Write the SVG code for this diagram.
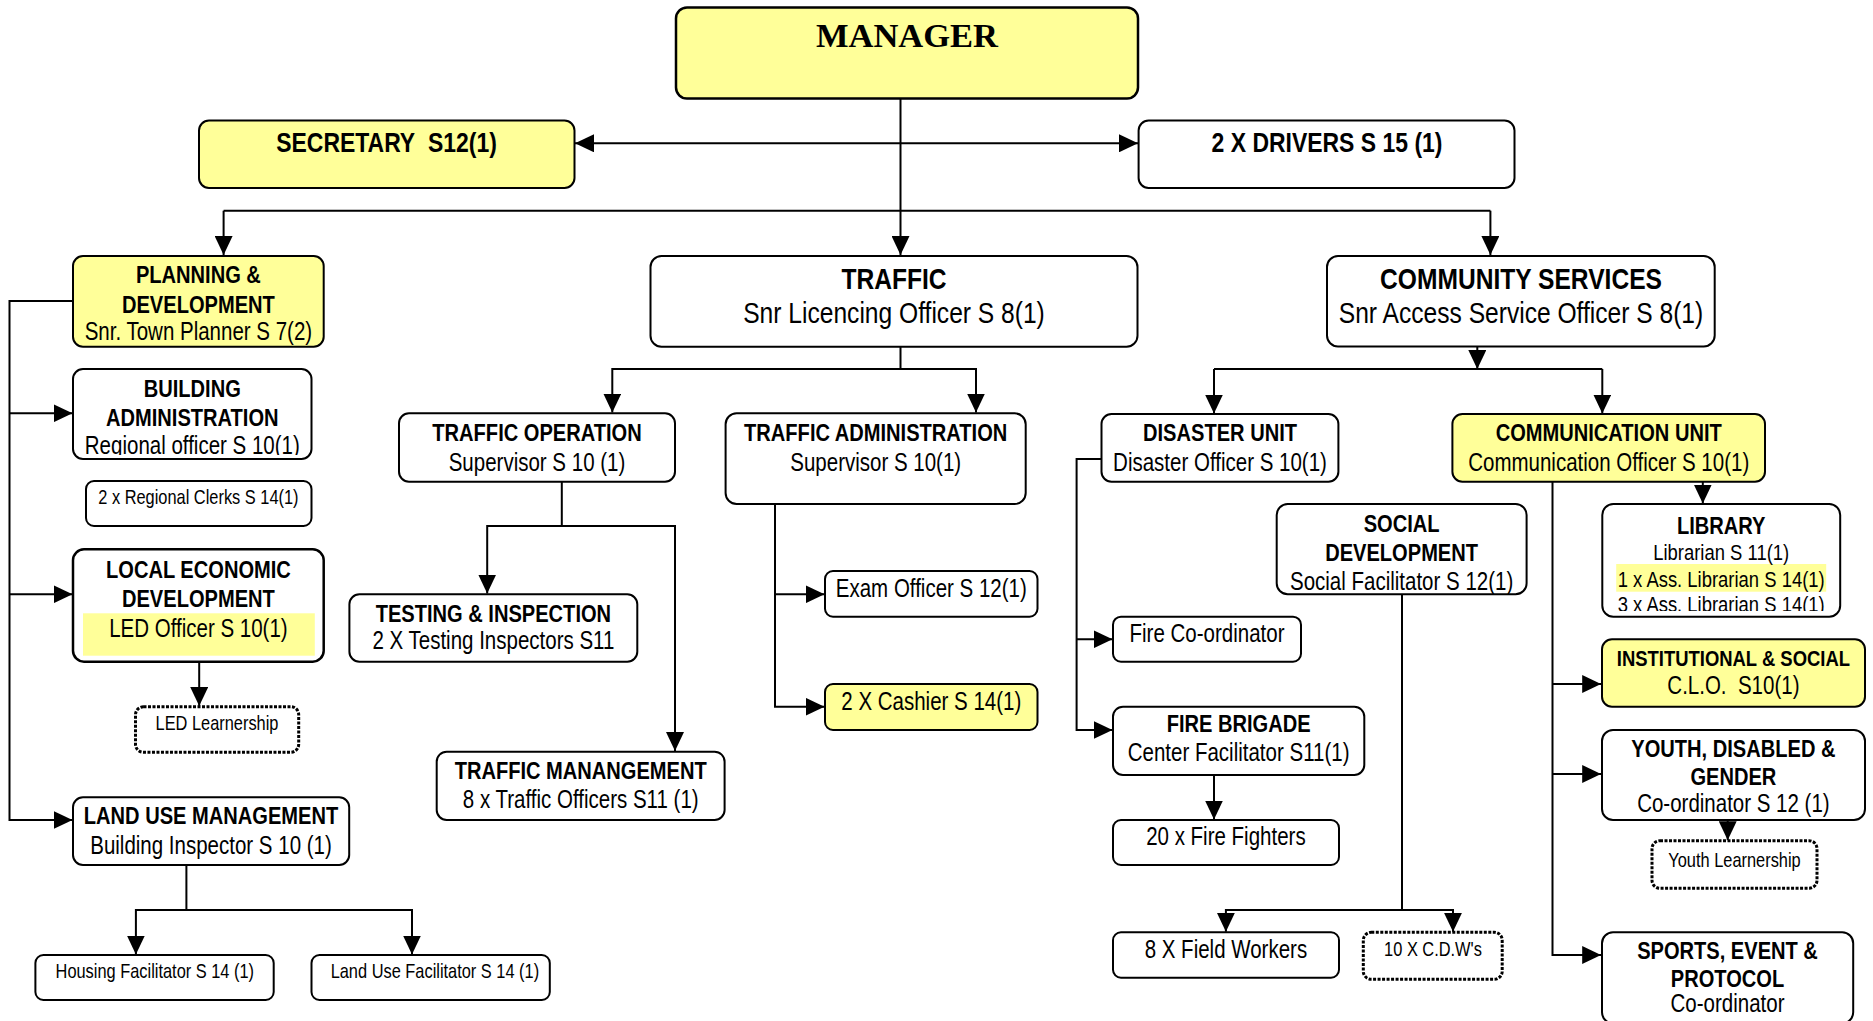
<svg xmlns="http://www.w3.org/2000/svg" width="1873" height="1021" viewBox="0 0 1873 1021">
  <style>
    .box { fill: #ffffff; stroke: #000000; stroke-width: 2; }
    .yel { fill: #ffff99; stroke: #000000; stroke-width: 2; }
    .dot { fill: #ffffff; stroke: #000000; stroke-width: 3; stroke-dasharray: 3 1.5; }
    .mark { fill: #ffff99; stroke: none; }
    .wire { fill: none; stroke: #000000; stroke-width: 2; }
    .arr { marker-end: url(#head); }
    text { font-family: "Liberation Sans", Arial, sans-serif; fill: #000000; text-anchor: middle; }
    .b { font-weight: bold; font-size: 24.5px; }
    .r { font-size: 25px; }
    .s { font-size: 20px; }
    .m { font-size: 22.5px; }
    .xl { font-size: 30px; }
    .xlb { font-size: 30px; font-weight: bold; }
    .lg { font-size: 28px; font-weight: bold; }
    .mgr { font-family: "Liberation Serif", "Times New Roman", serif; font-weight: bold; font-size: 34.5px; }
  </style>
  <defs>
    <marker id="head" markerUnits="userSpaceOnUse" markerWidth="19" markerHeight="18" refX="19" refY="9" orient="auto" viewBox="0 0 19 18">
      <path d="M0,0 L19,9 L0,18 Z" fill="#000000"/>
    </marker>
    <clipPath id="clipBuilding"><rect x="73" y="369" width="239" height="86"/></clipPath>
    <clipPath id="clipLibrary"><rect x="1602" y="504" width="238" height="107"/></clipPath>
  </defs>

  <!-- connectors -->
  <g id="connectors">
    <path class="wire arr" d="M900.5,98 V255"/>
    <path class="wire arr" d="M900.5,143.3 H575"/>
    <path class="wire arr" d="M900.5,143.3 H1138"/>
    <path class="wire" d="M223.6,210.7 H1490.4"/>
    <path class="wire arr" d="M223.6,210.7 V255"/>
    <path class="wire arr" d="M1490.4,210.7 V255"/>

    <path class="wire arr" d="M900.5,346.7 V369 H612.3 V412.5"/>
    <path class="wire arr" d="M900.5,369 H976 V412.5"/>
    <path class="wire arr" d="M561.8,481.7 V526 H487.2 V593.5"/>
    <path class="wire arr" d="M561.8,526 H675 V751"/>
    <path class="wire arr" d="M775,504 V706.7 H824.5"/>
    <path class="wire arr" d="M775,594.3 H824.5"/>

    <path class="wire arr" d="M73,301 H9.5 V820 H72.5"/>
    <path class="wire arr" d="M9.5,413.3 H72.5"/>
    <path class="wire arr" d="M9.5,594.3 H72.5"/>
    <path class="wire arr" d="M199.2,661.7 V706"/>
    <path class="wire arr" d="M186.4,865 V910 H135.9 V954.5"/>
    <path class="wire arr" d="M186.4,910 H412 V954.5"/>

    <path class="wire arr" d="M1477.3,346.5 V369"/>
    <path class="wire" d="M1214,369 H1602.3"/>
    <path class="wire arr" d="M1214,369 V413.5"/>
    <path class="wire arr" d="M1602.3,369 V413.5"/>
    <path class="wire arr" d="M1101.5,459 H1076.6 V730 H1112.5"/>
    <path class="wire arr" d="M1076.6,639.3 H1112.5"/>
    <path class="wire arr" d="M1214,775 V819.5"/>
    <path class="wire arr" d="M1402,594.3 V910 H1225.9 V931.8"/>
    <path class="wire arr" d="M1402,910 H1453 V931.8"/>
    <path class="wire arr" d="M1552.5,481.7 V955 H1601.2"/>
    <path class="wire arr" d="M1552.5,684 H1601.2"/>
    <path class="wire arr" d="M1552.5,774 H1601.2"/>
    <path class="wire arr" d="M1702.8,481.7 V503.5"/>
    <path class="wire arr" d="M1727.7,820 V840.2"/>
  </g>

  <!-- top level -->
  <g id="manager">
    <rect class="yel" x="676" y="7.5" width="462" height="91" rx="11" style="stroke-width:2.5"/>
    <text class="mgr" x="907" y="47">MANAGER</text>
  </g>
  <g id="secretary">
    <rect class="yel" x="199" y="120.5" width="375.5" height="67.5" rx="10"/>
    <g transform="translate(386.5 0) scale(0.82 1)"><text class="lg" x="0" y="151.7">SECRETARY&#160; S12(1)</text></g>
  </g>
  <g id="drivers">
    <rect class="box" x="1138.6" y="120.5" width="375.9" height="67.5" rx="10"/>
    <g transform="translate(1327 0) scale(0.82 1)"><text class="lg" x="0" y="151.7">2 X DRIVERS S 15 (1)</text></g>
  </g>

  <!-- planning & development branch -->
  <g id="planning">
    <rect class="yel" x="73" y="256" width="250.7" height="90.7" rx="10"/>
    <g transform="translate(198.4 0) scale(0.82 1)">
      <text class="b" x="0" y="283">PLANNING &amp;</text>
      <text class="b" x="0" y="312.7">DEVELOPMENT</text>
      <text class="r" x="0" y="340.5">Snr. Town Planner S 7(2)</text>
    </g>
  </g>
  <g id="building">
    <rect class="box" x="73" y="369" width="238.5" height="90" rx="10"/>
    <g clip-path="url(#clipBuilding)">
      <g transform="translate(192.3 0) scale(0.82 1)">
        <text class="b" x="0" y="396.7">BUILDING</text>
        <text class="b" x="0" y="426">ADMINISTRATION</text>
        <text class="r" x="0" y="454.5">Regional officer S 10(1)</text>
      </g>
    </g>
  </g>
  <g id="clerks">
    <rect class="box" x="86" y="481" width="225.5" height="45" rx="8"/>
    <g transform="translate(198.4 0) scale(0.82 1)"><text class="s" x="0" y="504">2 x Regional Clerks S 14(1)</text></g>
  </g>
  <g id="led">
    <rect class="box" x="73" y="549.3" width="250.7" height="112.4" rx="11" style="stroke-width:2.5"/>
    <rect class="mark" x="83" y="613.3" width="231.8" height="42.4"/>
    <g transform="translate(198.4 0) scale(0.82 1)">
      <text class="b" x="0" y="578.3">LOCAL ECONOMIC</text>
      <text class="b" x="0" y="607.3">DEVELOPMENT</text>
      <text class="r" x="0" y="637.3">LED Officer S 10(1)</text>
    </g>
  </g>
  <g id="led-learnership">
    <rect class="dot" x="135.5" y="706.7" width="163.2" height="45.6" rx="8"/>
    <g transform="translate(217 0) scale(0.82 1)"><text class="s" x="0" y="730">LED Learnership</text></g>
  </g>
  <g id="land-use">
    <rect class="box" x="73" y="797.3" width="276.2" height="67.7" rx="10"/>
    <g transform="translate(211 0) scale(0.82 1)">
      <text class="b" x="0" y="824">LAND USE MANAGEMENT</text>
      <text class="r" x="0" y="854">Building Inspector S 10 (1)</text>
    </g>
  </g>
  <g id="housing">
    <rect class="box" x="35.4" y="955" width="238.3" height="45" rx="8"/>
    <g transform="translate(154.8 0) scale(0.82 1)"><text class="s" x="0" y="978.3">Housing Facilitator S 14 (1)</text></g>
  </g>
  <g id="land-use-facilitator">
    <rect class="box" x="311.5" y="955" width="238.3" height="45" rx="8"/>
    <g transform="translate(434.9 0) scale(0.82 1)"><text class="s" x="0" y="978.3">Land Use Facilitator S 14 (1)</text></g>
  </g>

  <!-- traffic branch -->
  <g id="traffic">
    <rect class="box" x="650.5" y="256" width="487" height="90.7" rx="11"/>
    <g transform="translate(894 0) scale(0.82 1)">
      <text class="xlb" x="0" y="289">TRAFFIC</text>
      <text class="xl" x="0" y="323.3">Snr Licencing Officer S 8(1)</text>
    </g>
  </g>
  <g id="traffic-operation">
    <rect class="box" x="399" y="413.3" width="276" height="68.4" rx="10"/>
    <g transform="translate(537 0) scale(0.82 1)">
      <text class="b" x="0" y="440.6">TRAFFIC OPERATION</text>
      <text class="r" x="0" y="470.6">Supervisor S 10 (1)</text>
    </g>
  </g>
  <g id="traffic-administration">
    <rect class="box" x="725.6" y="413.3" width="300.1" height="90.7" rx="11"/>
    <g transform="translate(875.7 0) scale(0.82 1)">
      <text class="b" x="0" y="440.6">TRAFFIC ADMINISTRATION</text>
      <text class="r" x="0" y="470.6">Supervisor S 10(1)</text>
    </g>
  </g>
  <g id="testing">
    <rect class="box" x="349.4" y="594.3" width="287.9" height="67.4" rx="10"/>
    <g transform="translate(493.4 0) scale(0.82 1)">
      <text class="b" x="0" y="621.6">TESTING &amp; INSPECTION</text>
      <text class="r" x="0" y="649.5">2 X Testing Inspectors S11</text>
    </g>
  </g>
  <g id="traffic-management">
    <rect class="box" x="436.7" y="751.7" width="287.9" height="68.3" rx="10"/>
    <g transform="translate(580.7 0) scale(0.82 1)">
      <text class="b" x="0" y="779.3">TRAFFIC MANANGEMENT</text>
      <text class="r" x="0" y="808.3">8 x Traffic Officers S11 (1)</text>
    </g>
  </g>
  <g id="exam-officer">
    <rect class="box" x="825" y="571" width="212.5" height="45.7" rx="8"/>
    <g transform="translate(931.3 0) scale(0.82 1)"><text class="r" x="0" y="597">Exam Officer S 12(1)</text></g>
  </g>
  <g id="cashier">
    <rect class="yel" x="825" y="684" width="212.5" height="46" rx="8"/>
    <g transform="translate(931.3 0) scale(0.82 1)"><text class="r" x="0" y="710">2 X Cashier S 14(1)</text></g>
  </g>

  <!-- community services branch -->
  <g id="community">
    <rect class="box" x="1327" y="256" width="387.7" height="90.5" rx="11"/>
    <g transform="translate(1521 0) scale(0.82 1)">
      <text class="xlb" x="0" y="289">COMMUNITY SERVICES</text>
      <text class="xl" x="0" y="323.3">Snr Access Service Officer S 8(1)</text>
    </g>
  </g>
  <g id="disaster">
    <rect class="box" x="1101.5" y="414" width="236.9" height="67.7" rx="10"/>
    <g transform="translate(1220 0) scale(0.82 1)">
      <text class="b" x="0" y="440.7">DISASTER UNIT</text>
      <text class="r" x="0" y="470.7">Disaster Officer S 10(1)</text>
    </g>
  </g>
  <g id="fire-coordinator">
    <rect class="box" x="1113" y="616.7" width="188" height="45" rx="8"/>
    <g transform="translate(1207 0) scale(0.82 1)"><text class="r" x="0" y="641.7">Fire Co-ordinator</text></g>
  </g>
  <g id="fire-brigade">
    <rect class="box" x="1113" y="706.7" width="251.3" height="68.3" rx="10"/>
    <g transform="translate(1238.6 0) scale(0.82 1)">
      <text class="b" x="0" y="732.3">FIRE BRIGADE</text>
      <text class="r" x="0" y="760.7">Center Facilitator S11(1)</text>
    </g>
  </g>
  <g id="fire-fighters">
    <rect class="box" x="1113" y="820" width="226" height="45" rx="8"/>
    <g transform="translate(1225.9 0) scale(0.82 1)"><text class="r" x="0" y="845">20 x Fire Fighters</text></g>
  </g>
  <g id="social">
    <rect class="box" x="1276.7" y="504" width="249.9" height="90.3" rx="11"/>
    <g transform="translate(1401.6 0) scale(0.82 1)">
      <text class="b" x="0" y="531.7">SOCIAL</text>
      <text class="b" x="0" y="560.7">DEVELOPMENT</text>
      <text class="r" x="0" y="590">Social Facilitator S 12(1)</text>
    </g>
  </g>
  <g id="field-workers">
    <rect class="box" x="1113" y="932.3" width="226" height="45.4" rx="8"/>
    <g transform="translate(1225.9 0) scale(0.82 1)"><text class="r" x="0" y="958.3">8 X Field Workers</text></g>
  </g>
  <g id="cdw">
    <rect class="dot" x="1363.3" y="932.3" width="138.9" height="47" rx="8"/>
    <g transform="translate(1433 0) scale(0.82 1)"><text class="s" x="0" y="956">10 X C.D.W's</text></g>
  </g>
  <g id="communication">
    <rect class="yel" x="1452.4" y="414" width="312.6" height="67.7" rx="10"/>
    <g transform="translate(1608.7 0) scale(0.82 1)">
      <text class="b" x="0" y="440.7">COMMUNICATION UNIT</text>
      <text class="r" x="0" y="470.7">Communication Officer S 10(1)</text>
    </g>
  </g>
  <g id="library">
    <rect class="box" x="1602.3" y="504" width="237.9" height="112.7" rx="11"/>
    <rect class="mark" x="1616.2" y="564" width="210" height="27.7"/>
    <g clip-path="url(#clipLibrary)">
      <g transform="translate(1721.2 0) scale(0.82 1)">
        <text class="b" x="0" y="534">LIBRARY</text>
        <text class="m" x="0" y="560">Librarian S 11(1)</text>
        <text class="m" x="0" y="586.7">1 x Ass. Librarian S 14(1)</text>
        <text class="m" x="0" y="612.5">3 x Ass. Librarian S 14(1)</text>
      </g>
    </g>
  </g>
  <g id="institutional">
    <rect class="yel" x="1602" y="639.3" width="263" height="67.4" rx="10"/>
    <g transform="translate(1733.4 0) scale(0.82 1)">
      <text class="b" x="0" y="666" style="font-size:22.5px">INSTITUTIONAL &amp; SOCIAL</text>
      <text class="r" x="0" y="694">C.L.O.&#160; S10(1)</text>
    </g>
  </g>
  <g id="youth">
    <rect class="box" x="1602" y="730" width="263" height="90" rx="11"/>
    <g transform="translate(1733.4 0) scale(0.82 1)">
      <text class="b" x="0" y="756.7">YOUTH, DISABLED &amp;</text>
      <text class="b" x="0" y="785">GENDER</text>
      <text class="r" x="0" y="812.3">Co-ordinator S 12 (1)</text>
    </g>
  </g>
  <g id="youth-learnership">
    <rect class="dot" x="1652" y="840.7" width="165" height="47.6" rx="8"/>
    <g transform="translate(1734.5 0) scale(0.82 1)"><text class="s" x="0" y="866.7">Youth Learnership</text></g>
  </g>
  <g id="sports">
    <rect class="box" x="1602" y="932.3" width="251.2" height="91" rx="11"/>
    <g transform="translate(1727.5 0) scale(0.82 1)">
      <text class="b" x="0" y="959.3">SPORTS, EVENT &amp;</text>
      <text class="b" x="0" y="986.7">PROTOCOL</text>
      <text class="r" x="0" y="1011.7">Co-ordinator</text>
    </g>
  </g>
</svg>
